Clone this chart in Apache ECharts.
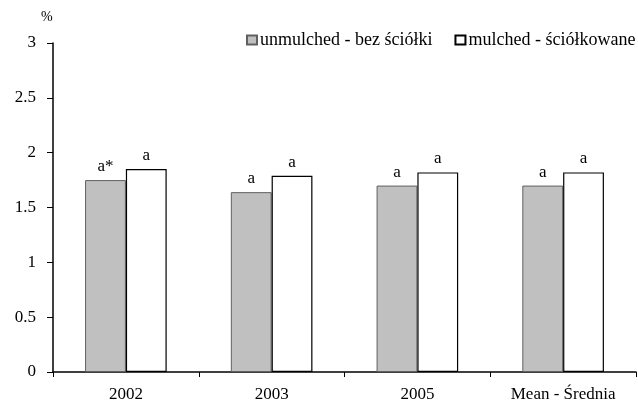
<!DOCTYPE html>
<html>
<head>
<meta charset="utf-8">
<script src="https://cdn.jsdelivr.net/npm/echarts@6/dist/echarts.min.js"></script>
<style>html,body{margin:0;padding:0;background:#fff}#c{width:638px;height:409px}</style>
</head>
<body>
<div id="c"></div>
<script>
const categories = ['2002', '2003', '2005', 'Mean - Średnia'];
const seriesNames = ['unmulched - bez ściółki', 'mulched - ściółkowane'];
const unmulched = [1.75, 1.64, 1.70, 1.70];
const mulched = [1.85, 1.79, 1.82, 1.82];
const unmulchedLabels = ['a*', 'a', 'a', 'a'];
const mulchedLabels = ['a', 'a', 'a', 'a'];
const yTicks = { min: 0, max: 3, interval: 0.5 };
const unitLabel = '%';

const FONT = '"Liberation Serif", "Times New Roman", serif';
const chart = echarts.init(document.getElementById('c'), null, { renderer: 'canvas' });
chart.setOption({
  animation: false,
  backgroundColor: '#fff',
  textStyle: { fontFamily: FONT, color: '#000' },
  grid: { left: 53, right: 2, top: 43, bottom: 37, containLabel: false },
  legend: {
    data: seriesNames,
    icon: 'rect',
    left: 246, top: 31, padding: 0, width: 400,
    itemWidth: 10, itemHeight: 9, itemGap: 22,
    textStyle: { fontFamily: FONT, fontSize: 18, color: '#000', padding: [0, 0, 0, -2] }
  },
  graphic: [{
    type: 'text', left: 41, top: 10,
    style: { text: unitLabel, font: '14px ' + FONT, fill: '#000' }
  }],
  xAxis: {
    type: 'category',
    data: categories,
    boundaryGap: true,
    axisLine: { lineStyle: { color: '#000', width: 1.5 } },
    axisTick: { show: true, alignWithLabel: false, length: 5, lineStyle: { color: '#000' } },
    axisLabel: { margin: 14, fontFamily: FONT, fontSize: 17, color: '#000' },
    splitLine: { show: false }
  },
  yAxis: {
    type: 'value',
    min: yTicks.min, max: yTicks.max, interval: yTicks.interval,
    axisLine: { show: true, lineStyle: { color: '#000', width: 1.5 } },
    axisTick: { show: true, length: 6, lineStyle: { color: '#000' } },
    axisLabel: { margin: 17, fontFamily: FONT, fontSize: 17, color: '#000' },
    splitLine: { show: false }
  },
  series: [
    {
      name: seriesNames[0], type: 'bar', data: unmulched,
      barGap: '0%', barCategoryGap: '44%',
      itemStyle: { color: '#c0c0c0', borderColor: '#606060', borderWidth: 1 },
      label: { show: true, position: 'top', distance: 5, fontFamily: FONT, fontSize: 17, color: '#000',
        formatter: p => unmulchedLabels[p.dataIndex] }
    },
    {
      name: seriesNames[1], type: 'bar', data: mulched,
      barGap: '0%', barCategoryGap: '44%',
      itemStyle: { color: '#ffffff', borderColor: '#000000', borderWidth: 1.2 },
      label: { show: true, position: 'top', distance: 5, fontFamily: FONT, fontSize: 17, color: '#000',
        formatter: p => mulchedLabels[p.dataIndex] }
    }
  ]
});
</script>
</body>
</html>
